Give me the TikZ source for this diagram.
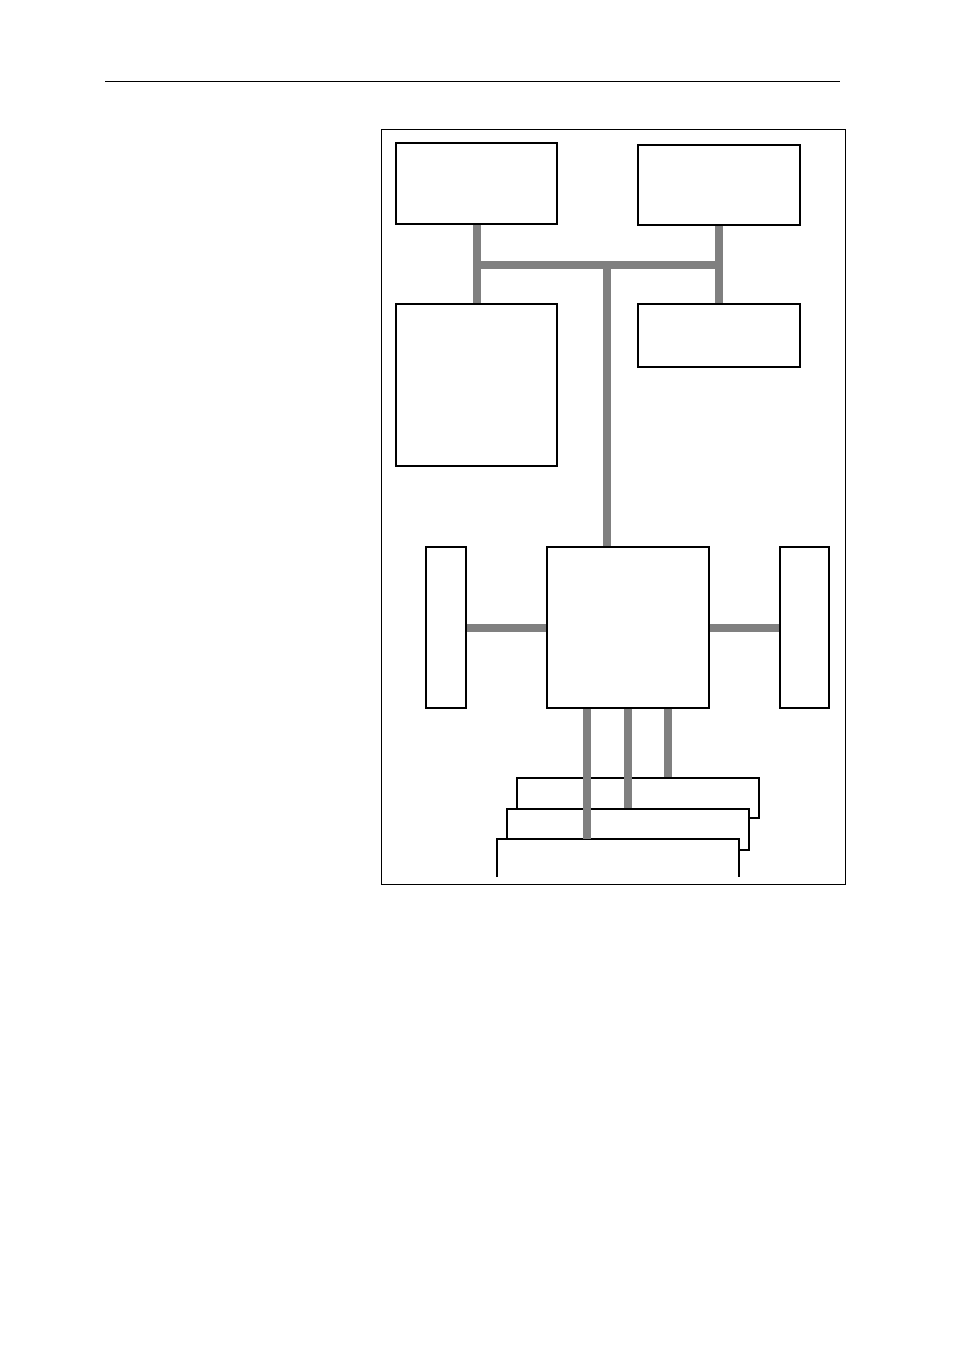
\documentclass[tikz,border=0pt]{standalone}
\usepackage{tikz}
\usetikzlibrary{positioning}

\begin{document}
\begin{tikzpicture}[x=1pt, y=-1pt, box/.style = {draw, line width=1.6pt, fill=white, inner sep=0pt}, bus/.style = {draw=gray, line width=8pt}]
\useasboundingbox (0,0) rectangle (954,1351);
\draw[line width=1pt] (105,82) -- (840,82);
\draw[line width=1pt] (381,130) rectangle (845,884);

\node[box] (tl) at (476.5,183.5) [minimum width=161pt, minimum height=81pt]{};
\node[box] (tr) at (719,185) [minimum width=162pt, minimum height=80pt]{};
\node[box] (ml) at (476.5,385) [minimum width=161pt, minimum height=162pt]{};
\node[box] (mr) at (719,335.5) [minimum width=162pt, minimum height=63pt]{};
\node[box] (cpu) at (628,627.5) [minimum width=162pt, minimum height=161pt]{};
\node[box] (lw) at (446,627.5) [minimum width=40pt, minimum height=161pt]{};
\node[box] (rw) at (804.5,627.5) [minimum width=49pt, minimum height=161pt]{};
\node[box] (st3) at (638,798) [minimum width=242pt, minimum height=40pt]{};
\node[box] (st2) at (628,829.5) [minimum width=242pt, minimum height=41pt]{};
\node (st1) at (618,858) [fill=white, minimum width=242pt, minimum height=38pt, inner sep=0pt]{};
\draw[line width=1.6pt] (st1.south west) |- (st1.north east) -- (st1.south east);

\coordinate (jl) at (476.5,265);
\coordinate (jm) at (607,265);
\coordinate (jr) at (719,265);

\draw[bus] (tl) -- (ml);
\draw[bus] (tr) -- (mr);
\draw[bus] (jl) -- (jr);
\draw[bus] (jm) -- (jm |- cpu.north);
\draw[bus] (lw) -- (cpu);
\draw[bus] (cpu) -- (rw);
\draw[bus] ([xshift=-41pt]cpu.south) -- ([xshift=-41pt]cpu.south |- st1.north);
\draw[bus] (cpu.south) -- (cpu.south |- st2.north);
\draw[bus] ([xshift=40pt]cpu.south) -- ([xshift=40pt]cpu.south |- st3.north);
\end{tikzpicture}
\end{document}
